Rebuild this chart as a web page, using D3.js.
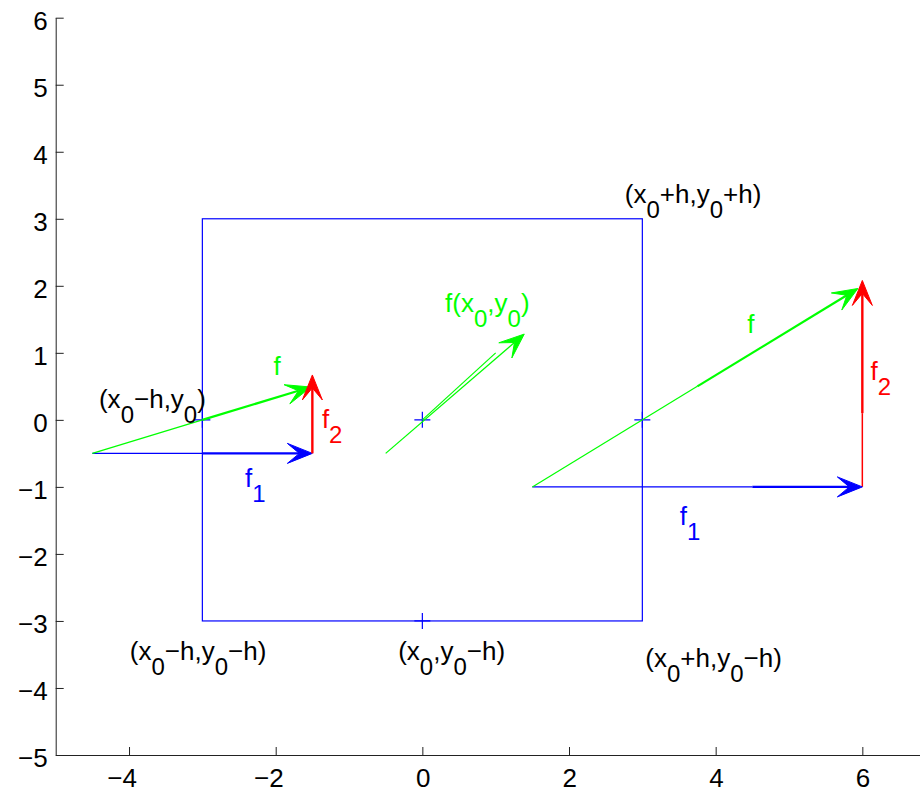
<!DOCTYPE html>
<html>
<head>
<meta charset="utf-8">
<script src="https://cdn.jsdelivr.net/npm/d3@7"></script>
<style>
  html, body { margin: 0; padding: 0; background: #fff; }
  svg { display: block; font-family: "Liberation Sans", Arial, Helvetica, sans-serif; }
</style>
</head>
<body>
<svg id="chart" width="920" height="794"></svg>
<script>
// ---------- data ----------
const xDomain = [-5, 7];
const yDomain = [-5, 6];
const xTicks = [-4, -2, 0, 2, 4, 6];
const yTicks = [-5, -4, -3, -2, -1, 0, 1, 2, 3, 4, 5, 6];

// square [x0-h, x0+h] x [y0-h, y0+h]
const boxX = [-3, 3];
const boxY = [-3, 3];
// "+" markers
const markX = [0, -3, 3, 0];
const markY = [0, 0, 0, -3];

// thin lines [x1, y1, x2, y2]
const blueThin = [[-4.5, -0.5, -3, -0.5], [1.5, -1, 4.5, -1]];
const greenThin = [[-4.5, -0.5, -3, 0], [0, 0, 1.0, 1.0], [1.5, -1, 3.75, 0.5]];
const redThin = [[6, -1, 6, 0.1]];

// arrows [x1, y1, x2, y2] (head at x2,y2)
const blueArrows = [[-3, -0.5, -1.5, -0.5], [4.5, -1, 6, -1]];
const greenArrows = [[-3, 0, -1.52, 0.49], [3.75, 0.5, 5.94, 1.96]];
const greenThinArrows = [[-0.5, -0.5, 1.39, 1.28]];
const redArrows = [[-1.5, -0.5, -1.5, 0.67], [6, 0.1, 6, 2.08]];

// labels: text ("_c" = subscript char), data x, data y
const blackLabels = [
  ["(x_0−h,y_0)", -4.41, 0.18],
  ["(x_0+h,y_0+h)", 2.76, 3.24],
  ["(x_0−h,y_0−h)", -3.99, -3.58],
  ["(x_0,y_0−h)", -0.33, -3.58],
  ["(x_0+h,y_0−h)", 3.04, -3.69]
];
const greenLabels = [
  ["f(x_0,y_0)", 0.31, 1.61],
  ["f", -2.03, 0.67],
  ["f", 4.43, 1.30]
];
const redLabels = [
  ["f_2", -1.37, -0.12],
  ["f_2", 6.11, 0.60]
];
const blueLabels = [
  ["f_1", -2.42, -1.0],
  ["f_1", 3.51, -1.57]
];

// ---------- drawing ----------
const BLUE = "#0000ff", GREEN = "#00ff00", RED = "#ff0000";
const svg = d3.select("#chart");
const x = d3.scaleLinear().domain(xDomain).range([55.7, 55.7 + 12 * 73.33]);
const y = d3.scaleLinear().domain(yDomain).range([755, 17.7]);

// axes
const gx = svg.append("g").attr("transform", `translate(0,${y(yDomain[0])})`)
  .call(d3.axisBottom(x).tickValues(xTicks).tickSizeInner(-8).tickSizeOuter(0).tickPadding(14)
    .tickFormat(d => d < 0 ? "−" + Math.abs(d) : String(d)));
gx.selectAll("text").attr("text-anchor", "end").attr("x", 7.5);
const gy = svg.append("g").attr("transform", `translate(${x(xDomain[0])},0)`)
  .call(d3.axisLeft(y).tickValues(yTicks).tickSizeInner(-8).tickSizeOuter(0).tickPadding(8)
    .tickFormat(d => d < 0 ? "−" + Math.abs(d) : String(d)));
gy.selectAll("text").attr("dy", "0.46em");
[gx, gy].forEach(g => {
  g.selectAll("path,line").attr("stroke", "#222").attr("stroke-width", 1);
  g.selectAll("text").attr("fill", "#000").style("font-size", "26px")
    .style("font-family", '"Liberation Sans", Arial, sans-serif');
});

const plot = svg.append("g");

// box
plot.append("rect")
  .attr("x", x(boxX[0])).attr("y", y(boxY[1]))
  .attr("width", x(boxX[1]) - x(boxX[0])).attr("height", y(boxY[0]) - y(boxY[1]))
  .attr("fill", "none").attr("stroke", BLUE).attr("stroke-width", 1.2);

// markers
markX.forEach((mx, i) => {
  const cx = x(mx), cy = y(markY[i]);
  plot.append("path").attr("d", `M${cx - 8},${cy}H${cx + 8}M${cx},${cy - 8}V${cy + 8}`)
    .attr("stroke", BLUE).attr("stroke-width", 1.2).attr("fill", "none");
});

function drawLines(arr, color, w) {
  arr.forEach(s => {
    plot.append("line").attr("x1", x(s[0])).attr("y1", y(s[1])).attr("x2", x(s[2])).attr("y2", y(s[3]))
      .attr("stroke", color).attr("stroke-width", w);
  });
}
function drawArrows(arr, color, w) {
  arr.forEach(s => {
    const x1 = x(s[0]), y1 = y(s[1]), x2 = x(s[2]), y2 = y(s[3]);
    const ang = Math.atan2(y2 - y1, x2 - x1);
    const L = 25, W = 10, N = 13;
    const ux = Math.cos(ang), uy = Math.sin(ang), px = -uy, py = ux;
    const bx = x2 - L * ux, by = y2 - L * uy;
    const nx = x2 - N * ux, ny = y2 - N * uy;
    plot.append("line").attr("x1", x1).attr("y1", y1).attr("x2", nx).attr("y2", ny)
      .attr("stroke", color).attr("stroke-width", w);
    plot.append("path")
      .attr("d", `M${x2},${y2}L${bx + W * px},${by + W * py}L${nx},${ny}L${bx - W * px},${by - W * py}Z`)
      .attr("fill", color).attr("stroke", color).attr("stroke-width", 1).attr("stroke-linejoin", "miter");
  });
}
drawLines(blueThin, BLUE, 1.2);
drawLines(greenThin, GREEN, 1.2);
drawLines(redThin, RED, 1.5);
drawArrows(greenThinArrows, GREEN, 1.3);
drawArrows(blueArrows, BLUE, 2.2);
drawArrows(greenArrows, GREEN, 2.2);
drawArrows(redArrows, RED, 2.4);

// labels
function drawLabels(arr, color) {
  arr.forEach(l => {
    const t = plot.append("text").attr("x", x(l[1])).attr("y", y(l[2]))
      .attr("fill", color).style("font-size", "26px");
    const parts = l[0].split(/(_.)/).filter(s => s.length);
    let sub = false;
    parts.forEach(p => {
      if (p[0] === "_") {
        t.append("tspan").attr("dy", 15).style("font-size", "24px").text(p[1]);
        sub = true;
      } else {
        t.append("tspan").attr("dy", sub ? -15 : 0).text(p);
        sub = false;
      }
    });
  });
}
drawLabels(blackLabels, "#000");
drawLabels(greenLabels, GREEN);
drawLabels(redLabels, RED);
drawLabels(blueLabels, BLUE);
</script>
</body>
</html>
